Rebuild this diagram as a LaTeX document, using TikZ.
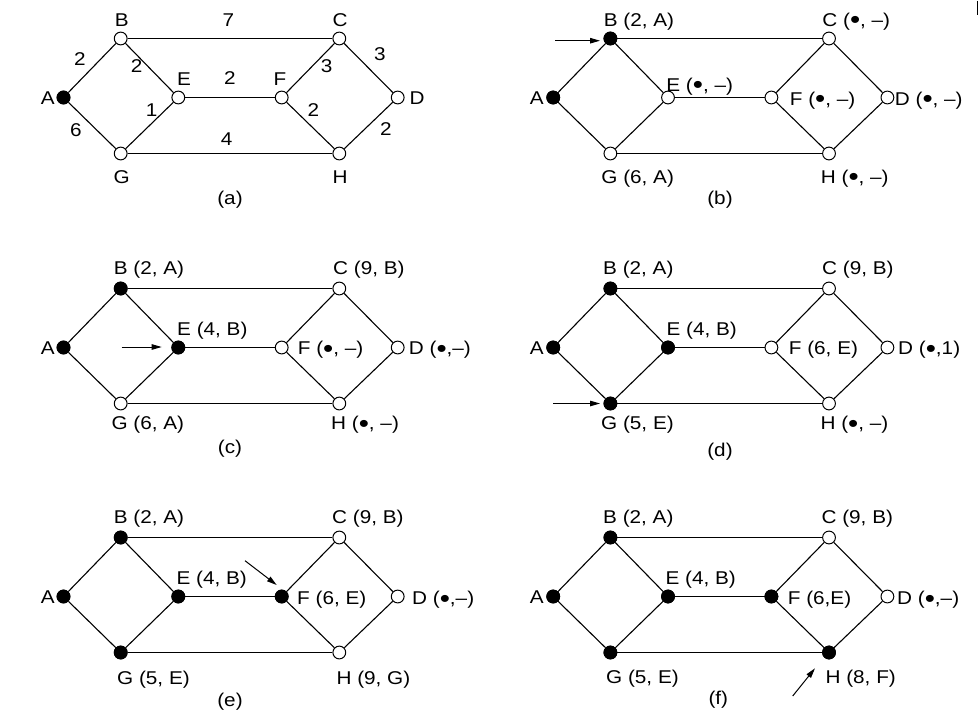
\documentclass[tikz,border=0pt]{standalone}
\usepackage{fontspec}
\usepackage{graphicx}
\setmainfont{Liberation Sans}[FakeStretch=1.12]
\usetikzlibrary{arrows.meta}
\newcommand\lbfont{\fontsize{18.5}{20}\selectfont}
\newcommand\bul{\raisebox{-0.13em}{\scalebox{1.4}{•}}}
\tikzset{
  vtx/.style={circle, draw, line width=1pt, minimum size=12.8pt, inner sep=0pt, fill=white},
  vtxb/.style={vtx, fill=black},
  edge/.style={line width=1.1pt},
  lbl/.style={anchor=base west, inner sep=0pt, font=\lbfont},
  lblc/.style={anchor=base, inner sep=0pt, font=\lbfont},
  arr/.style={line width=1pt, -{Triangle[length=10pt,width=5.5pt]}},
}
\newcommand\drawpanel[3]{%
  \begin{scope}[shift={#2}]
    \foreach \n/\px/\py in {A/63.5/97.5, B/120.7/38.5, C/339.3/38.5, D/397.7/97.5, E/178.3/97.5, F/281.7/97.5, G/120.7/153.5, H/339.3/153.5}
      \node[vtx] (#1\n) at (\px,\py) {};
    \foreach \n in {#3} \node[vtxb] at (#1\n) {};
    \foreach \u/\v in {A/B,A/G,B/C,B/E,G/E,G/H,E/F,F/C,F/H,C/D,H/D}
      \draw[edge] (#1\u) -- (#1\v);
  \end{scope}}
\begin{document}
\begin{tikzpicture}[x=1pt,y=-1pt]
\useasboundingbox (0,0) rectangle (979,717);
\fill[white] (0,0) rectangle (979,717);
\draw[line width=1.3pt] (977.6,1) -- (977.6,15);
% ---------- (a)
\drawpanel{a}{(0,0)}{A}
\begin{scope}[shift={(0,0)}]
  \node[lblc] (aLA) at (47.7,104.2) {A};
  \node[lblc] (aLB) at (121.7,26.5) {B};
  \node[lblc] (aLC) at (340,26.5) {C};
  \node[lblc] (aLD) at (417,104.5) {D};
  \node[lblc] (aLE) at (184,85) {E};
  \node[lblc] (aLF) at (280,85) {F};
  \node[lblc] (aLG) at (121.7,183) {G};
  \node[lblc] (aLH) at (340,183) {H};
  \node[lblc] (aW1) at (228.3,26.5) {7};
  \node[lblc] (aW2) at (80,66) {2};
  \node[lblc] (aW3) at (136.7,73) {2};
  \node[lblc] (aW4) at (230,84.7) {2};
  \node[lblc] (aW5) at (326.7,73) {3};
  \node[lblc] (aW6) at (380,60) {3};
  \node[lblc] (aW7) at (76,136.5) {6};
  \node[lblc] (aW8) at (151.7,116.5) {1};
  \node[lblc] (aW9) at (226.7,145) {4};
  \node[lblc] (aW10) at (313.3,116.5) {2};
  \node[lblc] (aW11) at (386,135) {2};
  \node[lblc] (aCap) at (230,204.7) {(a)};
\end{scope}
% ---------- (b)
\drawpanel{b}{(489.7,0)}{A,B}
\begin{scope}[shift={(489.7,0)}]
  \node[lblc] (bLA) at (47,104.2) {A};
  \node[lbl] (bLB) at (114,26.5) {B (2, A)};
  \node[lbl] (bLC) at (332.5,26.5) {C (\bul, –)};
  \node[lbl] (bLE) at (176.5,91) {E (\bul, –)};
  \node[lbl] (bLF) at (300,105.5) {F (\bul, –)};
  \node[lbl] (bLD) at (405,105.5) {D (\bul, –)};
  \node[lbl] (bLG) at (111.5,183) {G (6, A)};
  \node[lbl] (bLH) at (331,183) {H (\bul, –)};
  \node[lblc] (bCap) at (230.3,204.7) {(b)};
  \coordinate (bAs) at (65.3,40.7);
  \coordinate (bAe) at (110.3,40.7);
  \draw[arr] (bAs) -- (bAe);
\end{scope}
% ---------- (c)
\drawpanel{c}{(0,250)}{A,B,E}
\begin{scope}[shift={(0,250)}]
  \node[lblc] (cLA) at (47.7,104) {A};
  \node[lbl] (cLB) at (113.7,24) {B (2, A)};
  \node[lbl] (cLC) at (333,24) {C (9, B)};
  \node[lbl] (cLE) at (177,85.5) {E (4, B)};
  \node[lbl] (cLF) at (297.7,104.8) {F (\bul, –)};
  \node[lbl] (cLD) at (408.7,104.8) {D (\bul,–)};
  \node[lbl] (cLG) at (111.4,179.8) {G (6, A)};
  \node[lbl] (cLH) at (331,179.8) {H (\bul, –)};
  \node[lblc] (cCap) at (230,203) {(c)};
  \coordinate (cAs) at (121.7,97);
  \coordinate (cAe) at (161.7,97);
  \draw[arr] (cAs) -- (cAe);
\end{scope}
% ---------- (d)
\drawpanel{d}{(489.7,250)}{A,B,E,G}
\begin{scope}[shift={(489.7,250)}]
  \node[lblc] (dLA) at (47,104) {A};
  \node[lbl] (dLB) at (113.3,24) {B (2, A)};
  \node[lbl] (dLC) at (332.3,24) {C (9, B)};
  \node[lbl] (dLE) at (176.7,85.5) {E (4, B)};
  \node[lbl] (dLF) at (299,104.8) {F (6, E)};
  \node[lbl] (dLD) at (408.3,104.8) {D (\bul,1)};
  \node[lbl] (dLG) at (111.3,179.8) {G (5, E)};
  \node[lbl] (dLH) at (330.7,179.8) {H (\bul, –)};
  \node[lblc] (dCap) at (230.3,206.4) {(d)};
  \coordinate (dAs) at (63.6,153.5);
  \coordinate (dAe) at (110.3,153.5);
  \draw[arr] (dAs) -- (dAe);
\end{scope}
% ---------- (e)
\drawpanel{e}{(0,499)}{A,B,E,G,F}
\begin{scope}[shift={(0,499)}]
  \node[lblc] (eLA) at (47.7,104.5) {A};
  \node[lbl] (eLB) at (113.7,24.8) {B (2, A)};
  \node[lbl] (eLC) at (332,24.8) {C (9, B)};
  \node[lbl] (eLE) at (176.4,85.8) {E (4, B)};
  \node[lbl] (eLF) at (297,105.8) {F (6, E)};
  \node[lbl] (eLD) at (412,105.8) {D (\bul,–)};
  \node[lbl] (eLG) at (117,185.8) {G (5, E)};
  \node[lbl] (eLH) at (336.4,185.8) {H (9, G)};
  \node[lblc] (eCap) at (230,207.3) {(e)};
  \coordinate (eAs) at (245,61.7);
  \coordinate (eAe) at (276.7,86);
  \draw[arr] (eAs) -- (eAe);
\end{scope}
% ---------- (f)
\drawpanel{f}{(489.7,499)}{A,B,E,G,F,H}
\begin{scope}[shift={(489.7,499)}]
  \node[lblc] (fLA) at (47,104.5) {A};
  \node[lbl] (fLB) at (113.3,24.8) {B (2, A)};
  \node[lbl] (fLC) at (331.7,24.8) {C (9, B)};
  \node[lbl] (fLE) at (175.7,85.8) {E (4, B)};
  \node[lbl] (fLF) at (298,105.8) {F (6,E)};
  \node[lbl] (fLD) at (407.3,105.8) {D (\bul,–)};
  \node[lbl] (fLG) at (116.3,184.8) {G (5, E)};
  \node[lbl] (fLH) at (335.7,184.8) {H (8, F)};
  \node[lblc] (fCap) at (228.6,205.7) {(f)};
  \coordinate (fAs) at (303,197);
  \coordinate (fAe) at (325.3,169.3);
  \draw[arr] (fAs) -- (fAe);
\end{scope}
\end{tikzpicture}
\end{document}
